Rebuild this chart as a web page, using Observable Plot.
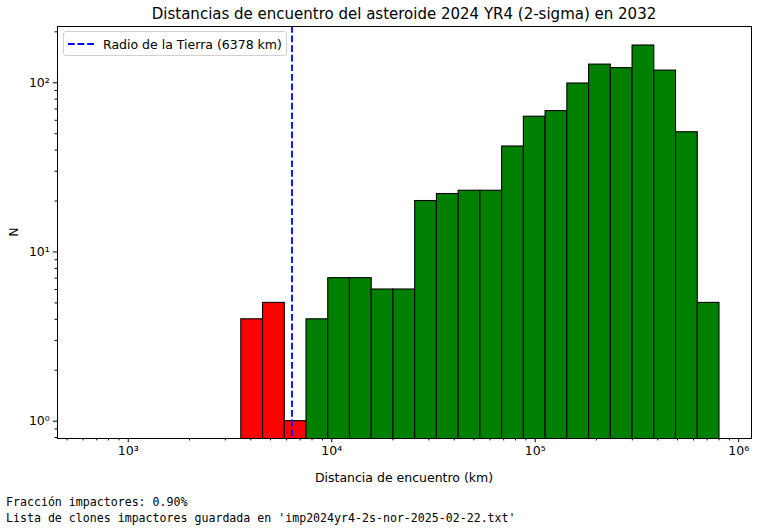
<!DOCTYPE html>
<html><head><meta charset="utf-8">
<script src="https://cdn.jsdelivr.net/npm/d3@7"></script>
<script src="https://cdn.jsdelivr.net/npm/@observablehq/plot@0.6"></script>
<style>
body{margin:0;background:#fff;}
#fig{position:relative;width:783px;height:528px;font-family:"DejaVu Sans",sans-serif;color:#000;overflow:hidden;}
#fig svg{position:absolute;left:0;top:0;}
.abs{position:absolute;white-space:nowrap;}
#title{left:404px;top:14px;transform:translate(-50%,-50%);font-size:15px;}
#xlabel{left:404px;top:477px;transform:translate(-50%,-50%);font-size:12.5px;}
#ylabel{left:13px;top:232px;transform:translate(-50%,-50%) rotate(-90deg);font-size:12.5px;}
#legend{left:63px;top:31px;width:222px;height:23px;border:1px solid #d0d0d0;border-radius:3px;background:rgba(255,255,255,0.8);}
#legend svg{position:absolute;left:3px;top:5px;}
#legend span{position:absolute;left:39px;top:50%;transform:translateY(-50%);font-size:12.5px;}
.foot{left:6px;font-family:"DejaVu Sans Mono",monospace;font-size:11.6px;transform:translateY(-50%);}
</style></head><body>
<div id="fig"></div>
<script>
// Histogram bin edges (km), log-spaced
const binEdges = [3594, 4597, 5878, 7516, 9613, 12292, 15720, 20104, 25711, 32885, 42050,
  53778, 68770, 87946, 112460, 143860, 183960, 235250, 300850, 384720, 492000, 629230, 804700];
// Counts per bin
const counts = [4, 5, 1, 4, 7, 7, 6, 6, 20, 22, 23, 23, 42, 63, 68, 99, 128, 122, 166, 118, 51, 5];
const earthRadius = 6378;
const xMajorTicks = [1e3, 1e4, 1e5, 1e6];
const yMajorTicks = [1, 10, 100];
const titleText = "Distancias de encuentro del asteroide 2024 YR4 (2-sigma) en 2032";
const xLabelText = "Distancia de encuentro (km)";
const yLabelText = "N";
const legendText = "Radio de la Tierra (6378 km)";
const footLines = ["Fracción impactores: 0.90%",
  "Lista de clones impactores guardada en 'imp2024yr4-2s-nor-2025-02-22.txt'"];

const bins = counts.map((c, i) => ({x1: binEdges[i], x2: binEdges[i + 1], n: c}));

const supMap = {"0":"⁰","1":"¹","2":"²","3":"³","4":"⁴","5":"⁵","6":"⁶","7":"⁷","8":"⁸","9":"⁹","-":"⁻"};
const pow10 = v => "10" + String(Math.round(Math.log10(v))).split("").map(ch => supMap[ch]).join("");

const xDomain = [449, 1156000];
const yDomain = [0.79, 215];
const xMinor = [], yMinor = [];
for (let e = 2; e <= 6; e++) for (let m = 2; m <= 9; m++) {
  const v = m * 10 ** e; if (v > xDomain[0] && v < xDomain[1]) xMinor.push(v);
}
for (let e = -1; e <= 2; e++) for (let m = 2; m <= 9; m++) {
  const v = m * 10 ** e; if (v > yDomain[0] && v < yDomain[1]) yMinor.push(v);
}

const chart = Plot.plot({
  width: 783, height: 528,
  marginLeft: 57, marginRight: 32, marginTop: 26, marginBottom: 90,
  style: {fontFamily: "DejaVu Sans, sans-serif", fontSize: "12.5px", color: "#000", background: "transparent"},
  x: {type: "log", domain: xDomain, axis: null},
  y: {type: "log", domain: yDomain, axis: null},
  marks: [
    Plot.rect(bins, {x1: "x1", x2: "x2", y1: 0.1, y2: "n",
      fill: d => d.x1 < earthRadius ? "#ff0000" : "#008000",
      stroke: "#000", strokeWidth: 1.1, clip: true}),
    Plot.ruleX([earthRadius], {stroke: "#0000ff", strokeWidth: 1.8, strokeDasharray: "6.7,2.9"}),
    Plot.frame({stroke: "#000", strokeWidth: 1}),
    Plot.axisX(xMajorTicks, {anchor: "bottom", tickSize: 4.2, tickPadding: 3.5, tickFormat: pow10, label: null, fontSize: 12.5}),
    Plot.axisX(xMinor, {anchor: "bottom", tickSize: 2.4, tickFormat: () => "", label: null}),
    Plot.axisY(yMajorTicks, {anchor: "left", tickSize: 4.2, tickPadding: 3.5, tickFormat: pow10, label: null, fontSize: 12.5}),
    Plot.axisY(yMinor, {anchor: "left", tickSize: 2.4, tickFormat: () => "", label: null})
  ]
});

const fig = document.getElementById("fig");
fig.appendChild(chart);

function addDiv(id, cls, text, extra) {
  const d = document.createElement("div");
  if (id) d.id = id;
  d.className = "abs" + (cls ? " " + cls : "");
  if (text != null) d.textContent = text;
  if (extra) Object.assign(d.style, extra);
  fig.appendChild(d);
  return d;
}
addDiv("title", "", titleText);
addDiv("xlabel", "", xLabelText);
addDiv("ylabel", "", yLabelText);
const leg = addDiv("legend", "", null);
leg.innerHTML = '<svg width="30" height="14"><line x1="1" y1="7" x2="29" y2="7" stroke="#0000ff" stroke-width="1.8" stroke-dasharray="6.7,2.9"/></svg>';
const sp = document.createElement("span"); sp.textContent = legendText; leg.appendChild(sp);
addDiv(null, "foot", footLines[0], {top: "502px"});
addDiv(null, "foot", footLines[1], {top: "518px"});
</script>
</body></html>
